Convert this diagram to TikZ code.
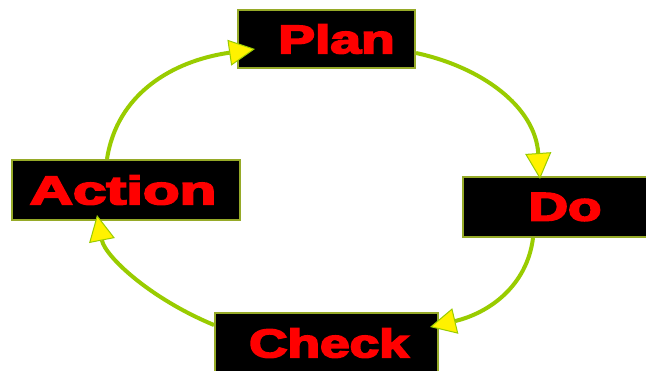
\documentclass[tikz,border=0pt]{standalone}
\usepackage{fontspec}
\setmainfont{Liberation Sans}[BoldFeatures={FakeBold=4}]
\usetikzlibrary{arrows.meta,calc}
\definecolor{cyclegreen}{RGB}{153,204,0}
\definecolor{boxedge}{RGB}{150,170,40}
\definecolor{lblred}{RGB}{255,0,0}
\newcommand{\pdcalabel}[2]{\scalebox{#1}[1]{\textcolor{lblred}{\bfseries #2}}}
\begin{document}
\begin{tikzpicture}[x=1pt,y=-1pt,
  pdcabox/.style={draw=boxedge,line width=2pt,fill=black,inner sep=0pt,font=\fontsize{40}{40}\selectfont},
  cyclearrow/.style={draw=cyclegreen,line width=4pt,
    -{Triangle[length=26pt,width=26pt,line width=1pt,fill=yellow]}}]
\fill[white] (0,0) rectangle (646,370);
\useasboundingbox (0,0) rectangle (646,370);
\clip (0,0) rectangle (646,370);
\node[pdcabox,minimum width=177pt,minimum height=58pt] (plan) at (326.5,39)
  {\hspace*{20pt}\pdcalabel{1.38}{Plan}};
\node[pdcabox,minimum width=228pt,minimum height=60pt] (action) at (126,190)
  {\pdcalabel{1.50}{Action}\hspace*{6pt}};
\node[pdcabox,minimum width=204pt,minimum height=60pt] (do) at (565,207)
  {\pdcalabel{1.37}{Do}};
\node[pdcabox,minimum width=223pt,minimum height=60pt] (check) at (326.5,343)
  {\hspace*{5pt}\pdcalabel{1.33}{Check}};
\draw[cyclearrow] ($(action.north)+(-19,0)$) .. controls ($(action.north)+(-9,-65)$) and ($(plan.west)+(-65,22)$) .. ($(plan.west)+(18,10)$);
\draw[cyclearrow] ($(plan.east)+(0,14)$) .. controls ($(plan.east)+(65,28)$) and ($(do.north)+(-30,-70)$) .. ($(do.north)+(-25,3)$);
\draw[cyclearrow] ($(do.south)+(-32,0)$) .. controls ($(do.south)+(-38,48)$) and ($(check.east)+(50,-30)$) .. ($(check.east)+(-9,-16)$);
\draw[cyclearrow] ($(check.west)+(0,-18)$) .. controls ($(check.west)+(-65,-45)$) and ($(action.south)+(-21,35)$) .. ($(action.south)+(-29,-6)$);
\end{tikzpicture}
\end{document}
